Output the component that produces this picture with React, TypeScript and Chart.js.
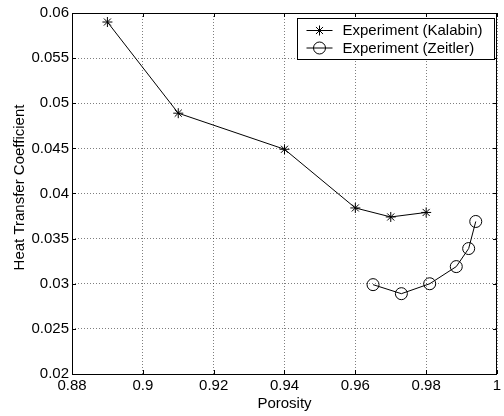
import React, { useEffect, useRef } from "react";
import { Chart, registerables } from "chart.js";

Chart.register(...registerables);

const xTicks = [0.88, 0.9, 0.92, 0.94, 0.96, 0.98, 1];
const xTickLabels = ["0.88", "0.9", "0.92", "0.94", "0.96", "0.98", "1"];
const yTicks = [0.02, 0.025, 0.03, 0.035, 0.04, 0.045, 0.05, 0.055, 0.06];
const yTickLabels = ["0.02", "0.025", "0.03", "0.035", "0.04", "0.045", "0.05", "0.055", "0.06"];

const kalabinX = [0.89, 0.91, 0.94, 0.96, 0.97, 0.98];
const kalabinY = [0.059, 0.0489, 0.0449, 0.0384, 0.0374, 0.0379];
const zeitlerX = [0.965, 0.973, 0.981, 0.9885, 0.992, 0.994];
const zeitlerY = [0.0299, 0.0289, 0.03, 0.0319, 0.0339, 0.0369];

const seriesLabels = ["Experiment (Kalabin)", "Experiment (Zeitler)"];
const yTitle = "Heat Transfer Coefficient";
const xTitle = "Porosity";

const FONT = "'Liberation Sans', Arial, Helvetica, sans-serif";

function drawMarker(ctx: CanvasRenderingContext2D, style: string, x: number, y: number, r: number) {
  ctx.beginPath();
  if (style === "star") {
    for (let k = 0; k < 4; k++) {
      const a = (k * Math.PI) / 4;
      const dx = Math.cos(a) * r;
      const dy = Math.sin(a) * r;
      ctx.moveTo(x - dx, y - dy);
      ctx.lineTo(x + dx, y + dy);
    }
  } else {
    ctx.arc(x, y, r, 0, Math.PI * 2);
  }
  ctx.stroke();
}

const frameAndLegend = {
  id: "frameAndLegend",
  afterDraw(chart: any) {
    const { ctx, chartArea } = chart;
    const { left, right, top, bottom } = chartArea;
    ctx.save();
    ctx.strokeStyle = "#000";
    ctx.lineWidth = 1;
    ctx.setLineDash([]);
    // box
    ctx.strokeRect(Math.round(left) + 0.5, Math.round(top) + 0.5, Math.round(right - left) - 1, Math.round(bottom - top));
    // inward ticks
    const tl = 4;
    const xs = chart.scales.x;
    const ys = chart.scales.y;
    ctx.beginPath();
    xs.ticks.forEach((t: any) => {
      const px = Math.round(xs.getPixelForValue(t.value)) + 0.5;
      ctx.moveTo(px, bottom);
      ctx.lineTo(px, bottom - tl);
      ctx.moveTo(px, top);
      ctx.lineTo(px, top + tl);
    });
    ys.ticks.forEach((t: any) => {
      const py = Math.round(ys.getPixelForValue(t.value)) + 0.5;
      ctx.moveTo(left, py);
      ctx.lineTo(left + tl, py);
      ctx.moveTo(right, py);
      ctx.lineTo(right - tl, py);
    });
    ctx.stroke();

    // y axis title (MATLAB places it slightly above the axis centre)
    ctx.save();
    ctx.fillStyle = "#000";
    ctx.font = `15px ${FONT}`;
    ctx.textAlign = "center";
    ctx.textBaseline = "middle";
    ctx.translate(20, (top + bottom) / 2 - 6);
    ctx.rotate(-Math.PI / 2);
    ctx.fillText(yTitle, 0, 0);
    ctx.restore();

    // legend
    const bw = 197;
    const bh = 41;
    const bx = Math.round(right) - 3 - bw + 0.5;
    const by = Math.round(top) + 5 + 0.5;
    ctx.fillStyle = "#fff";
    ctx.fillRect(bx, by, bw, bh);
    ctx.strokeRect(bx, by, bw, bh);
    ctx.font = `15px ${FONT}`;
    ctx.textBaseline = "middle";
    ctx.textAlign = "left";
    chart.data.datasets.forEach((ds: any, i: number) => {
      const cy = by + 12 + i * 17.5;
      ctx.beginPath();
      ctx.moveTo(bx + 9, cy);
      ctx.lineTo(bx + 35, cy);
      ctx.stroke();
      drawMarker(ctx, ds.pointStyle, bx + 22, cy, ds.pointRadius);
      ctx.fillStyle = "#000";
      ctx.fillText(ds.label, bx + 45, cy + 0.5);
    });
    ctx.restore();
  },
};

export default function App() {
  const canvasRef = useRef<HTMLCanvasElement | null>(null);

  useEffect(() => {
    const canvas = canvasRef.current;
    if (!canvas) return;
    const chart = new Chart(canvas, {
      type: "line",
      data: {
        datasets: [
          {
            label: seriesLabels[0],
            data: kalabinX.map((x, i) => ({ x, y: kalabinY[i] })),
            borderColor: "#000",
            borderWidth: 1,
            backgroundColor: "rgba(0,0,0,0)",
            pointStyle: "star",
            pointRadius: 5,
            pointBorderColor: "#000",
            pointBorderWidth: 1,
            tension: 0,
            fill: false,
          },
          {
            label: seriesLabels[1],
            data: zeitlerX.map((x, i) => ({ x, y: zeitlerY[i] })),
            borderColor: "#000",
            borderWidth: 1,
            backgroundColor: "rgba(0,0,0,0)",
            pointStyle: "circle",
            pointRadius: 6,
            pointBorderColor: "#000",
            pointBackgroundColor: "rgba(0,0,0,0)",
            pointBorderWidth: 1,
            tension: 0,
            fill: false,
          },
        ] as any,
      },
      options: {
        animation: false,
        responsive: false,
        devicePixelRatio: 1,
        layout: { padding: { top: 13, right: 1, left: 0, bottom: 0 } },
        plugins: {
          legend: { display: false },
          tooltip: { enabled: false },
        },
        scales: {
          x: {
            type: "linear",
            min: 0.88,
            max: 1,
            afterBuildTicks: (scale: any) => {
              scale.ticks = xTicks.map((v) => ({ value: v }));
            },
            afterFit: (scale: any) => {
              scale.height = 42;
              scale.paddingLeft = 0;
              scale.paddingRight = 0;
            },
            ticks: {
              autoSkip: false,
              maxRotation: 0,
              padding: 3,
              color: "#000",
              font: { family: FONT, size: 15 },
              callback: (_v: any, i: number) => xTickLabels[i],
            },
            grid: {
              color: "rgba(0,0,0,0.5)",
              lineWidth: 1,
              drawTicks: false,
            },
            border: { display: false, dash: [1, 2] },
            title: {
              display: true,
              text: xTitle,
              color: "#000",
              font: { family: FONT, size: 15 },
              padding: { top: 0, bottom: 3 },
            },
          },
          y: {
            type: "linear",
            min: 0.02,
            max: 0.06,
            afterBuildTicks: (scale: any) => {
              scale.ticks = yTicks.map((v) => ({ value: v }));
            },
            afterFit: (scale: any) => {
              scale.width = 72;
              scale.paddingTop = 0;
              scale.paddingBottom = 0;
            },
            ticks: {
              autoSkip: false,
              padding: 3,
              color: "#000",
              font: { family: FONT, size: 15 },
              callback: (_v: any, i: number) => yTickLabels[i],
            },
            grid: {
              color: "rgba(0,0,0,0.5)",
              lineWidth: 1,
              drawTicks: false,
            },
            border: { display: false, dash: [1, 2] },
            title: { display: false },
          },
        },
      } as any,
      plugins: [frameAndLegend],
    });
    return () => chart.destroy();
  }, []);

  return (
    <div style={{ position: "absolute", left: 0, top: 0, width: 504, height: 416, background: "#fff" }}>
      <canvas ref={canvasRef} width={504} height={416} style={{ display: "block", width: 504, height: 416 }} />
    </div>
  );
}
